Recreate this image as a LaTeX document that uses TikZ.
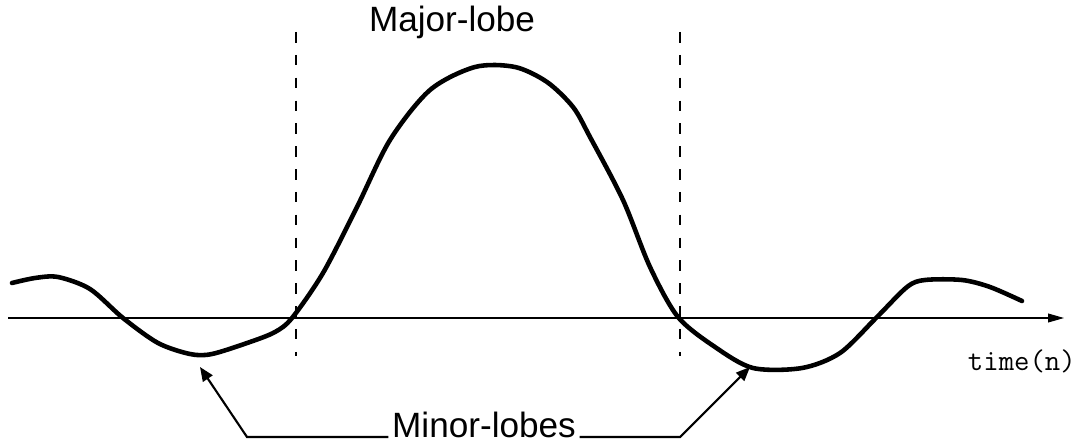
\documentclass[tikz,border=0pt]{standalone}
\usepackage{fontspec}
\setmainfont{Liberation Sans}
\usetikzlibrary{arrows.meta, positioning}

\begin{document}
\begin{tikzpicture}[
    x=0.02cm, y=-0.02cm,
    wave/.style={line width=2.6pt, line join=round, line cap=round},
    bound/.style={line width=1.6pt, dash pattern=on 6pt off 7pt},
    arr/.style={-{Triangle[length=8pt, width=6.5pt]}, line width=1.2pt},
    lbl/.style={font=\fontsize{20}{24}\selectfont, inner sep=2pt}
]
\useasboundingbox (0,0) rectangle (1081,446);

% axis
\coordinate (ax0) at (8,318);
\coordinate (ax1) at (1064,318);
\draw[-{Triangle[length=9pt, width=5pt]}, line width=0.6pt] (ax0) -- (ax1);
\node[font=\ttfamily\fontsize{17}{19}\selectfont, anchor=base east, inner sep=0pt] (timelbl) at (1076,370) {time(n)};

% main lobe limits
\coordinate (lb0) at (296,32);
\coordinate (lb1) at (296,356);
\coordinate (rb0) at (680,32);
\coordinate (rb1) at (680,356);
\draw[bound] (lb0) -- (lb1);
\draw[bound] (rb0) -- (rb1);

% sinc-like wave
\draw[wave] plot[smooth, tension=0.5] coordinates {
  (12,283) (35,278) (58,277) (90,289) (123,318) (158,343) (190,354)
  (212,354) (250,342) (275,332) (292,318) (323,273) (357,207) (390,140)
  (430,90) (475,67) (515,67) (547,82) (573,107) (590,137) (623,200)
  (650,267) (678,317) (715,347) (753,368) (802,368) (840,353) (876,318)
  (907,287) (925,280) (962,280) (990,287) (1022,301)};

\coordinate (minL) at (200,367);
\coordinate (minR) at (750,367);

\node[lbl, anchor=base] (major) at (452,32) {Major-lobe};
\node[lbl, anchor=base] (minor) at (484,437) {Minor-lobes};

\draw[arr] (minor.base west) -- (247,437) -- (minL);
\draw[arr] (minor.base east) -- (680,437) -- (minR);
\end{tikzpicture}
\end{document}
